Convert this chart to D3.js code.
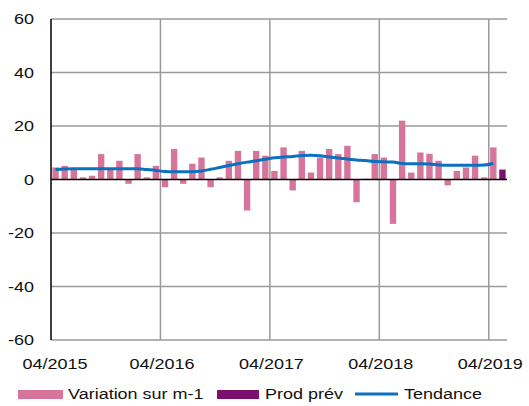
<!DOCTYPE html>
<html><head><meta charset="utf-8">
<script src="https://cdn.jsdelivr.net/npm/d3@7"></script>
<style>body{margin:0;background:#fff}svg{display:block}text{font-family:"Liberation Sans",Arial,sans-serif;fill:#111}</style>
</head><body><div id="c"></div>
<script>
const months = ["04/2015","05/2015","06/2015","07/2015","08/2015","09/2015","10/2015","11/2015","12/2015","01/2016","02/2016","03/2016",
"04/2016","05/2016","06/2016","07/2016","08/2016","09/2016","10/2016","11/2016","12/2016","01/2017","02/2017","03/2017",
"04/2017","05/2017","06/2017","07/2017","08/2017","09/2017","10/2017","11/2017","12/2017","01/2018","02/2018","03/2018",
"04/2018","05/2018","06/2018","07/2018","08/2018","09/2018","10/2018","11/2018","12/2018","01/2019","02/2019","03/2019",
"04/2019","05/2019"];
const variation = [4.5,5.1,3.6,0.8,1.4,9.5,4.0,7.0,-1.6,9.5,0.8,5.1,
-2.9,11.4,-1.6,5.9,8.2,-2.9,0.8,7.0,10.7,-11.6,10.7,8.9,
3.2,12.0,-4.1,10.7,2.6,8.2,11.4,9.5,12.6,-8.5,0.3,9.5,
8.2,-16.6,22.0,2.6,10.1,9.6,7.0,-2.2,3.2,4.5,8.9,0.8,
12.0,null];
const prodPrev = [null,null,null,null,null,null,null,null,null,null,null,null,
null,null,null,null,null,null,null,null,null,null,null,null,
null,null,null,null,null,null,null,null,null,null,null,null,
null,null,null,null,null,null,null,null,null,null,null,null,
null,3.7];
const trend = [3.7,3.9,4.0,4.0,4.0,4.0,4.0,4.0,4.0,4.0,3.7,3.4,
3.0,2.9,2.9,2.9,3.2,3.8,4.5,5.2,5.9,6.5,7.0,7.6,
8.1,8.4,8.6,9.0,9.1,8.9,8.4,8.0,7.7,7.3,7.1,6.7,
6.6,6.5,6.0,5.9,5.9,5.8,5.4,5.3,5.3,5.3,5.3,5.4,
6.0];
const xTickLabels = ["04/2015","04/2016","04/2017","04/2018","04/2019"];
const yTicks = [-60,-40,-20,0,20,40,60];
const legendLabels = ["Variation sur m-1","Prod prév","Tendance"];

const W=529,H=406, L=51, R=507, T=19, B=340;
const svg=d3.select("#c").append("svg").attr("width",W).attr("height",H);
const x=d3.scaleBand().domain(months).range([L,R]).paddingInner(0.3).paddingOuter(0.15);
const y=d3.scaleLinear().domain([-60,60]).range([B,T]);
const SX=1.2, FS=15;
const grey="#9a9a9a";

// horizontal grid
svg.append("g").selectAll("line").data(yTicks.filter(d=>d!==0)).join("line")
 .attr("x1",L).attr("x2",R).attr("y1",d=>y(d)).attr("y2",d=>y(d))
 .attr("stroke",grey).attr("stroke-width",1.5);
// vertical grid at year boundaries
const step=x.step();
const x0=d3.scaleLinear().domain([0,months.length]).range([L,R]);
svg.append("g").selectAll("line").data(xTickLabels.slice(1)).join("line")
 .attr("x1",d=>x0(months.indexOf(d))).attr("x2",d=>x0(months.indexOf(d)))
 .attr("y1",T).attr("y2",B).attr("stroke",grey).attr("stroke-width",1.5);

// bars
svg.append("g").selectAll("rect").data(months.map((m,i)=>({m,v:variation[i]})).filter(d=>d.v!=null)).join("rect")
 .attr("x",d=>x(d.m)).attr("width",x.bandwidth())
 .attr("y",d=>y(Math.max(0,d.v))).attr("height",d=>Math.abs(y(d.v)-y(0)))
 .attr("fill","#d6749b");
svg.append("g").selectAll("rect").data(months.map((m,i)=>({m,v:prodPrev[i]})).filter(d=>d.v!=null)).join("rect")
 .attr("x",d=>x(d.m)).attr("width",x.bandwidth())
 .attr("y",d=>y(Math.max(0,d.v))).attr("height",d=>Math.abs(y(d.v)-y(0)))
 .attr("fill","#7b106e");

// axes lines
svg.append("line").attr("x1",L).attr("x2",L).attr("y1",T).attr("y2",B).attr("stroke","#000").attr("stroke-width",1.5);
svg.append("line").attr("x1",L).attr("x2",R).attr("y1",y(0)).attr("y2",y(0)).attr("stroke","#000").attr("stroke-width",1.5);

// trend line
svg.append("path").datum(trend)
 .attr("d",d3.line().x((d,i)=>x(months[i])+x.bandwidth()/2).y(d=>y(d)).curve(d3.curveMonotoneX))
 .attr("fill","none").attr("stroke","#0a70c0").attr("stroke-width",3);

// y labels
svg.append("g").selectAll("text").data(yTicks).join("text")
 .attr("transform",d=>`translate(34,${y(d)}) scale(${SX},1)`)
 .attr("text-anchor","end").attr("dy","0.35em").attr("font-size",FS).text(d=>d);
// x labels
svg.append("g").selectAll("text").data(xTickLabels).join("text")
 .attr("transform",(d,i)=>`translate(${x0(months.indexOf(d))+(i===0?4:1.5)},369) scale(${SX},1)`)
 .attr("text-anchor","middle").attr("font-size",FS).text(d=>d);

// legend
const lg=svg.append("g");
const ly=394;
lg.append("rect").attr("x",18).attr("y",ly-4).attr("width",45).attr("height",9).attr("fill","#d6749b");
lg.append("text").attr("transform",`translate(68,${ly}) scale(${SX},1)`).attr("dy","0.35em").attr("font-size",FS).text(legendLabels[0]);
lg.append("rect").attr("x",217).attr("y",ly-4).attr("width",42).attr("height",9).attr("fill","#7b106e");
lg.append("text").attr("transform",`translate(265,${ly}) scale(${SX},1)`).attr("dy","0.35em").attr("font-size",FS).text(legendLabels[1]);
lg.append("line").attr("x1",355).attr("x2",398).attr("y1",ly).attr("y2",ly).attr("stroke","#0a70c0").attr("stroke-width",3);
lg.append("text").attr("transform",`translate(404,${ly}) scale(${SX},1)`).attr("dy","0.35em").attr("font-size",FS).text(legendLabels[2]);
</script></body></html>
